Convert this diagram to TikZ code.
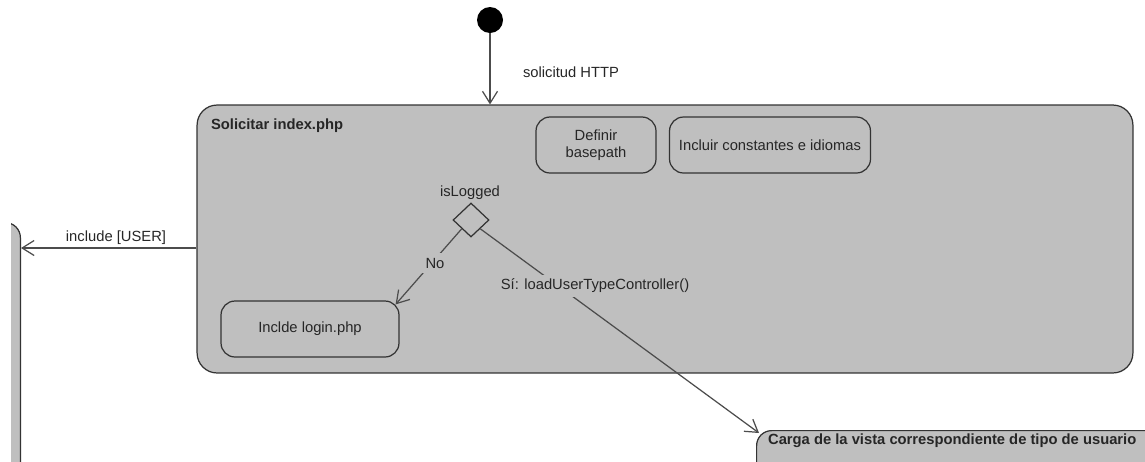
\documentclass[tikz,border=0pt]{standalone}
\usepackage{fontspec}
\setmainfont{Liberation Sans}
\usetikzlibrary{arrows.meta,shapes.geometric}

\begin{document}
\begin{tikzpicture}[x=0.02cm,y=-0.02cm,
        font=\fontsize{8.4}{10}\selectfont,
        actbox/.style={draw=black!80,fill=black!25,line width=0.7pt,rounded corners=0.28cm,
            align=center,inner sep=0pt,text=black!85},
        frame/.style={actbox,rounded corners=0.4cm},
        flow/.style={black!70,line width=0.7pt,-{Straight Barb[length=0.24cm,width=0.3cm]}},
        txt/.style={text=black!85,inner sep=1pt},
        guard/.style={txt,fill=black!25,inner sep=0.09cm},
        title/.style={txt,anchor=west,font=\fontsize{8.4}{10}\selectfont\bfseries}]
        \useasboundingbox (0,0) rectangle (1145,461);
        \clip (0,0) rectangle (1145,461);
        \node[circle,fill=black,minimum size=0.52cm,inner sep=0pt] (ini) at (490,20) {};
        \node[frame,minimum width=18.72cm,minimum height=5.36cm] (req) at (665,239) {};
        \node[title] (reqname) at (209,126) {Solicitar index.php};
        \node[actbox,minimum width=2.4cm,minimum height=1.12cm] (defin) at (596,145) {Definir\\basepath};
        \node[actbox,minimum width=4.02cm,minimum height=1.12cm] (incl) at (770,145) {Incluir constantes e idiomas};
        \node[diamond,draw=black!80,fill=black!25,line width=0.7pt,inner sep=0pt,
            minimum width=0.72cm,minimum height=0.68cm] (dec) at (471,220) {};
        \node[txt] (islog) at (470,193) {isLogged};
        \node[actbox,minimum width=3.56cm,minimum height=1.12cm] (login) at (310,329) {Inclde login.php};
        \begin{scope}
            \clip (11,0) rectangle (1145,461);
            \node[frame,rounded corners=0.3cm,minimum width=6cm,minimum height=8cm,anchor=north east] (usr) at (21,222) {};
        \end{scope}
        \node[frame,rounded corners=0.3cm,minimum width=10cm,minimum height=3cm,anchor=north west] (vista) at (756,430) {};
        \node[title] (vistaname) at (766,441) {Carga de la vista correspondiente de tipo de usuario};

        \draw[flow] (ini) -- (ini |- req.north);
        \node[txt] (http) at (571,72) {solicitud HTTP};
        \draw[flow] (req.west |- 0,248) -- (usr.east |- 0,248);
        \node[txt] (inc) at (116,238) {include [USER]};
        \draw[flow] (dec.south west) -- ([xshift=-0.08cm,yshift=-0.08cm]login.north east);
        \node[guard] (no) at (435,263) {No};
        \draw[flow] (dec.south east) -- ([xshift=0.06cm,yshift=-0.06cm]vista.north west);
        \node[guard] (si) at (595,286) {Sí: loadUserTypeController()};
\end{tikzpicture}
\end{document}
